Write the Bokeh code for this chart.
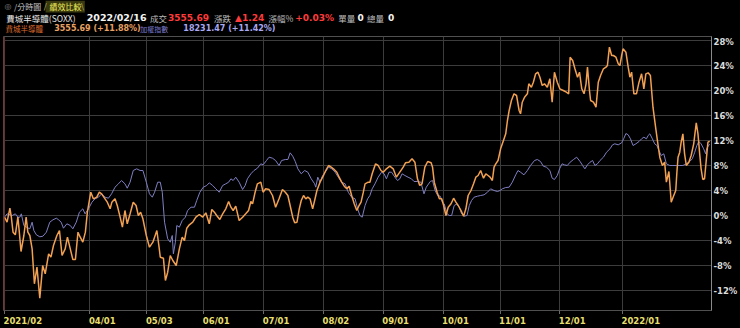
from bokeh.plotting import figure
from bokeh.models import (Range1d, LinearAxis, FixedTicker, PrintfTickFormatter,
                          ColumnDataSource, Span)
from bokeh.layouts import column
from bokeh.core.properties import value
from bokeh.embed import file_html
from bokeh.resources import INLINE

# ---------------- data (trading-day index, % change since start) ----------------
tick_days = [0, 30, 50, 70, 91, 112, 133, 154, 174, 195, 217]
tick_labels = ["2021/02", "04/01", "05/03", "06/01", "07/01", "08/02",
               "09/01", "10/01", "11/01", "12/01", "2022/01"]
y_ticks = [-12, -8, -4, 0, 4, 8, 12, 16, 20, 24, 28]

soxx_day = [0, 0.9, 1.9, 2.4, 3.0, 3.8, 4.7, 5.2, 5.8, 6.8, 7.6, 8.2, 8.9, 9.7, 10.5, 11.4, 12.4, 13.4, 14.3,
            15.5, 16.3, 17.2, 18.4, 19.3, 20.2, 21.3, 22.1, 23.1, 24.0, 24.9, 25.8, 26.6, 27.5, 28.4, 29.1,
            30.3, 31.2, 32.4, 33.3, 34.1, 35.3, 36.1, 37.1, 37.7, 38.8, 39.6, 40.6, 41.4, 42.3, 43.1, 44.1,
            45.2, 46.2, 47.0, 47.8,
            48.6, 49.8, 50.9, 52.1, 53.5, 54.2, 54.7, 55.8, 56.5, 57.3, 58.2, 59.1, 60.3, 61.4, 62.4, 63.2,
            64.0, 64.9, 66.1, 67.2, 68.4, 69.6, 70.7, 71.9, 72.8, 73.7, 74.5, 75.6, 76.6, 77.7, 78.7, 79.5,
            80.3, 81.2, 82.4, 83.6, 84.7, 85.7, 86.5, 87.1, 88.0, 88.8, 90.0, 90.8, 91.7, 92.9, 94.1, 95.2,
            96.4, 97.6,
            98.6, 99.5, 100.3, 101.2, 101.9, 102.7, 103.5, 104.2, 105.0, 105.8, 106.5, 107.3, 108.2, 108.9,
            109.7, 110.8, 112.0, 112.8, 113.8, 114.7, 115.5, 116.7, 117.5, 118.4, 119.3, 120.2, 121.0, 121.9,
            122.8, 123.7, 124.5, 125.2, 126.0, 126.6, 127.7, 128.3, 129.1, 130.3, 131.2, 132.2, 133.0, 134.1,
            135.3, 136.5, 137.6, 138.8, 140.0, 140.8, 142.0, 143.1, 144.1, 145.0, 145.8, 146.6, 147.6,
            148.6, 149.8, 150.3, 150.9, 151.9, 152.7, 153.5, 154.2, 155.0, 155.8, 156.8, 157.7, 158.5, 159.3,
            160.3, 161.2, 162.0, 162.8, 163.8, 164.7, 165.5, 166.3, 167.2, 168.2, 169.0, 169.8, 170.5, 171.3,
            171.9, 172.5, 173.3, 174.2, 175.2, 176.0, 176.6, 177.2, 178.0, 178.9, 179.8, 180.7, 181.2, 181.8,
            182.6, 183.6, 184.1, 185.0, 185.7, 186.5, 187.3, 188.0, 188.8, 189.6, 190.6, 191.5, 192.3, 193.1,
            194.1, 195.0, 196.2, 197.3, 198.1,
            198.6, 199.5, 200.3, 201.2, 201.9, 202.7, 203.5, 204.2, 204.7, 205.4, 205.8, 206.8, 207.7, 208.5,
            209.3, 210.3, 211.2, 211.7, 212.4, 213.2, 213.8, 214.7, 215.5, 216.1, 216.7, 217.2, 218.2, 219.0,
            219.6, 220.2, 221.0, 221.9, 222.8, 223.7, 224.5, 225.2, 226.0, 226.8, 227.7, 228.7, 229.5, 230.1,
            231.0, 231.8, 232.4, 233.3, 234.1, 235.0, 235.7, 236.1, 236.5, 237.1, 237.6, 238.2, 238.8, 239.4,
            240.3, 241.1, 242.0, 242.9, 243.5, 244.1, 244.6, 245.2, 245.8, 246.4, 247.0, 247.6]
soxx_pct = [-0.27, -1.07, 1.17, -0.27, -2.67, -3.09, -0.27, -2.67, -5.76, -3.2, -0.27, -2.67, -3.2, -5.33,
            -10.93, -8.27, -13.23, -8.0, -9.33, -6.13, -6.67, -4.8, -3.2, -2.4, -6.4, -5.33, -3.47, -5.33,
            -7.04, -7.04, -2.67, -3.47, -4.27, -2.67, 0.53, 3.73, 2.67, 2.93, 3.73, 3.47, 2.67, 2.13, 1.07,
            2.13, 2.67, 1.6, -0.27, -1.87, 0.8, -1.33, 0.27, 2.13, 1.6, 0.0, 0.53,
            -0.53, -3.2, -5.07, -4.27, -2.4, -4.8, -6.67, -6.83, -10.4, -9.07, -6.4, -7.2, -8.0, -5.33, -3.47,
            -4.0, -2.03, -1.49, -1.07, -0.27, 0.16, -0.27, 0.43, -1.33, 0.96, 0.53, 0.0, -0.64, 0.27, 1.07,
            2.24, 1.33, 0.8, 1.49, -0.8, -0.27, 0.27, 0.8, 2.24, 1.87, 3.73, 5.07, 5.33, 3.73, 4.27, 4.16,
            3.2, 1.33, 2.67, 4.16,
            3.73, 3.2, 1.6, -0.27, -1.17, -1.07, 1.07, 2.4, 3.2, 2.67, 2.93, 2.67, 1.07, 2.4, 4.0, 5.33, 6.4,
            7.2, 8.0, 7.73, 7.47, 6.93, 6.13, 5.33, 4.69, 4.27, 4.69, 3.2, 1.87, 0.8, 1.6, 2.13, 3.73, 5.07,
            5.33, 5.33, 6.67, 8.27, 8.0, 7.2, 6.93, 7.47, 7.89, 7.47, 6.13, 6.93, 7.73, 8.43, 8.53, 9.07,
            8.53, 5.87, 4.8, 5.07, 7.73,
            8.64, 8.43, 7.73, 5.33, 3.73, 2.67, 2.67, 1.6, 0.0, 1.33, 1.87, 2.77, 2.13, 1.6, 0.8, -0.11, 1.07,
            3.2, 4.0, 5.07, 6.13, 6.4, 7.2, 5.97, 6.67, 6.4, 6.13, 5.6, 7.73, 8.27, 8.8, 10.67, 12.0, 13.07,
            15.2, 16.8, 18.4, 19.47, 19.2, 16.8, 16.27, 18.13, 18.93, 19.47, 21.07, 20.53, 21.33, 22.67,
            22.93, 22.13, 20.8, 21.07, 20.53, 21.87, 18.13, 22.93, 21.33, 20.27, 20.0, 19.73, 19.47,
            25.33, 24.8, 23.47, 22.13, 22.93, 20.27, 19.47, 21.07, 23.73, 20.0, 18.4, 18.13, 17.33, 21.33,
            22.4, 23.47, 23.73, 24.0, 26.93, 25.6, 25.6, 25.33, 24.27, 24.0, 25.6, 26.67, 26.13, 23.73, 22.13,
            22.93, 19.47, 19.47, 21.33, 22.67, 20.27, 22.67, 22.83, 22.4, 17.33, 13.87, 11.2, 9.33, 8.0,
            8.53, 5.33, 7.04, 2.13, 3.2, 4.0, 6.93, 9.33, 10.13, 11.73, 13.07, 9.87, 8.0, 8.53, 9.6, 11.47,
            14.83, 13.07, 9.87, 7.47, 5.76, 5.87, 8.8, 11.73, 11.88]

taiex_day = [0, 0.9, 2.7, 3.8, 4.7, 5.4, 5.9, 6.8, 7.7, 8.9, 9.7, 10.3, 11.2, 12.4, 13.5, 14.7, 15.9, 17.0,
             18.2, 19.0, 19.9, 20.7, 21.9, 23.1, 24.0, 25.2, 26.3, 27.5, 28.3, 29.5, 30.7, 31.8, 33.0, 34.1,
             35.3, 36.5, 37.6, 38.8, 40.0, 41.1, 42.3, 43.1, 44.1, 45.2, 46.4, 47.6,
             48.6, 49.8, 50.9, 51.9, 52.7, 53.8, 54.7, 55.4, 56.2, 57.3, 58.2, 58.9, 59.3, 60.0, 60.5, 61.4,
             62.4, 63.5, 64.3, 65.5, 66.7, 67.5, 68.6, 69.8, 71.0, 71.9, 73.1, 74.2, 75.4, 76.6, 77.7, 78.7,
             79.5, 80.3, 81.2, 82.4, 83.6, 84.5, 85.3, 86.5, 87.6, 88.8, 90.0, 90.8, 92.0, 92.9, 94.1, 95.2,
             96.4, 97.3,
             98.6, 99.5, 100.3, 101.2, 102.1, 103.0, 104.2, 105.4, 106.5, 107.7, 108.9, 109.3, 110.0, 110.8,
             111.7, 112.6, 113.8, 114.9, 116.1, 117.2, 118.4, 119.6, 120.7, 121.9, 123.1, 124.0, 124.8, 125.6,
             126.6, 127.5, 128.3, 129.1, 130.1, 131.2, 132.4, 133.3, 134.1, 135.0, 135.9, 137.1, 138.0, 138.8,
             139.6, 140.6, 141.7, 142.9, 143.8, 145.0, 146.2, 147.3, 148.1,
             149.5, 150.3, 151.2, 152.1, 153.0, 153.8, 154.4, 155.4, 156.2, 157.0, 157.9, 158.9, 159.7, 160.5,
             161.4, 162.4, 163.2, 164.0, 164.9, 166.1, 167.2, 168.4, 169.6, 170.7, 171.9, 173.1, 174.0, 174.8,
             176.0, 177.2, 178.3, 179.5, 180.3, 181.2, 182.4, 183.6, 184.7, 186.1, 187.1, 188.2, 189.2, 190.3,
             191.5, 192.3, 193.1, 194.1, 195.0, 195.8, 196.6, 197.6,
             198.6, 199.8, 200.9, 202.1, 203.0, 203.8, 204.7, 205.6, 206.5, 207.3, 208.2, 209.1, 210.3, 211.4,
             212.6, 213.5, 214.3, 215.5, 216.7, 217.5, 218.2, 219.0, 219.8, 220.7, 221.7, 222.8, 223.7, 224.5,
             225.4, 226.0, 226.6, 227.5, 228.3, 229.1, 229.8, 230.6, 231.5, 232.4, 233.6, 234.7, 235.9, 237.1,
             238.2, 239.4, 240.6, 241.5, 242.3, 243.1, 243.8, 244.6, 245.5, 246.2, 246.6, 247.6]
taiex_pct = [-0.27, 0.27, 0.0, 0.27, -0.27, -0.27, 0.27, -1.6, -1.87, -2.13, -1.07, -2.4, -3.09, -3.41, -3.31,
             -2.67, -1.07, -0.69, -0.43, -0.69, -1.07, -2.03, -1.33, -1.6, -2.13, -1.07, 0.53, 1.07, 0.27, 1.07,
             2.13, 2.67, 2.93, 3.47, 2.93, 2.77, 3.47, 4.53, 5.07, 5.6, 5.07, 4.37, 5.33, 7.2, 7.47, 7.2,
             7.2, 5.33, 3.47, 2.93, 3.73, 5.33, 5.33, 3.73, -1.07, -3.73, -4.27, -3.2, -6.13, -4.27, -1.6, -1.87,
             -0.8, -0.27, 0.8, 1.33, 1.33, 2.4, 3.73, 4.53, 4.8, 5.23, 4.8, 4.27, 3.73, 4.8, 5.07, 5.33, 5.87,
             5.6, 6.13, 5.33, 4.16, 4.8, 5.87, 6.67, 7.2, 7.57, 8.27, 8.11, 8.8, 9.33, 9.17, 8.8, 8.0, 8.8,
             8.96, 8.96, 10.03, 9.49, 8.64, 7.47, 6.67, 7.2, 6.93, 5.87, 5.07, 4.53, 6.13, 5.33, 6.4, 6.93,
             7.73, 7.47, 6.93, 6.13, 5.33, 5.07, 3.73, 2.93, 2.67, 1.07, 0.0, -0.27, 1.6, 2.67, 3.2, 4.27,
             5.07, 6.13, 6.93, 6.67, 5.87, 6.93, 6.93, 6.13, 5.6, 5.87, 6.67, 6.4, 6.13, 5.87, 5.44, 5.44,
             5.33, 3.47, 4.53,
             5.44, 5.6, 4.0, 3.2, 3.09, 2.13, 1.87, 0.27, 0.0, 0.0, 1.6, 1.87, 1.33, 0.27, -0.11, 0.0, 1.6, 2.4,
             2.93, 3.09, 3.2, 3.31, 3.73, 4.27, 4.0, 3.84, 4.0, 4.27, 4.48, 4.53, 5.33, 6.51, 7.2, 6.93, 6.51,
             7.2, 8.0, 8.8, 8.96, 8.64, 7.89, 7.73, 7.2, 5.97, 5.76, 6.4, 7.57, 8.27, 8.11, 8.0,
             8.53, 8.96, 9.33, 8.64, 8.0, 7.47, 8.11, 8.53, 8.8, 8.0, 8.27, 8.8, 9.33, 10.13, 10.67, 11.31,
             11.47, 11.31, 11.63, 12.37, 13.12, 12.91, 12.27, 11.2, 11.47, 11.84, 12.27, 12.53, 12.27, 12.8,
             13.07, 12.27, 11.47, 11.2, 10.4, 9.6, 9.87, 8.27, 8.0, 8.0, 8.0, 8.0, 8.0, 8.27, 8.64, 9.07,
             10.03, 11.2, 11.84, 11.47, 10.67, 9.87, 10.77, 11.42]

CJK = "Noto Sans CJK TC"
NUM = "DejaVu Sans"
BG = "black"

# ---------------- header (quote line + legend) ----------------
h = figure(width=740, height=36, output_backend="svg", toolbar_location=None,
           x_range=Range1d(0, 740), y_range=Range1d(36, 0),
           x_axis_location=None, y_axis_location=None,
           min_border=0)
h.background_fill_color = BG
h.border_fill_color = BG
h.outline_line_color = None
h.grid.visible = False

h.quad(left=[44], right=[85], top=[0], bottom=[12], fill_color="#3a3a10", line_color=None)


def hdr(txt, x, y, color, size="10px", font=CJK, bold=False):
    h.text(x=[x], y=[y], text=[txt], text_color=color, text_align="left",
           text_baseline="middle", text_font=value(font), text_font_size=size,
           text_font_style="bold" if bold else "normal")


hdr("◎", 1, 6, "#8a8a8a", "8px", NUM)
hdr("/分時圖", 11, 6, "#c8c8c8", "8px")
hdr("/", 42, 6, "#9a9a50", "9px", NUM)
hdr("績效比較", 48, 6, "#f2ee5a", "8px")
hdr("\\", 81, 6, "#9a9a50", "9px", NUM)

hdr("費城半導體(SOXX)", 3, 17, "#e6e6e6", "8.5px")
hdr("2022/02/16", 87, 17, "#f4f4f4", "9.5px", NUM, True)
hdr("成交", 153, 17, "#bdbdbd", "8.5px")
hdr("3555.69", 172, 17, "#ff3b3b", "9px", NUM, True)
hdr("漲跌", 220, 17, "#bdbdbd", "8.5px")
hdr("▲1.24", 242, 17, "#ff3b3b", "9px", NUM, True)
hdr("漲幅%", 277, 17, "#bdbdbd", "8.5px")
hdr("+0.03%", 305, 17, "#ff3b3b", "9px", NUM, True)
hdr("單量", 350, 17, "#bdbdbd", "8.5px")
hdr("0", 370, 17, "#f4f4f4", "9px", NUM, True)
hdr("總量", 380, 17, "#bdbdbd", "8.5px")
hdr("0", 402, 17, "#f4f4f4", "9px", NUM, True)

hdr("費城半導體", 2, 28, "#d8692c", "7.5px")
hdr("3555.69 (+11.88%)", 53, 28, "#e9a062", "8px", NUM, True)
hdr("加權指數", 143, 28, "#7c7cd0", "7px")
hdr("18231.47 (+11.42%)", 188, 28, "#a9a9f2", "8px", NUM, True)

# ---------------- main chart ----------------
xr = Range1d(-0.35, 248.25)
p = figure(width=740, height=278, output_backend="svg", toolbar_location=None,
           x_range=xr, y_range=Range1d(-15.2, 28.64),
           x_axis_location="below", y_axis_location=None,
           min_border_left=3, min_border_right=26, min_border_top=0, min_border_bottom=4)
p.background_fill_color = BG
p.border_fill_color = BG
p.outline_line_color = "#505050"

xa = p.xaxis[0]
xa.ticker = FixedTicker(ticks=tick_days)
xa.major_label_text_color = None
xa.major_label_text_font_size = "1px"
xa.major_label_standoff = 0
xa.axis_line_color = None
xa.major_tick_line_color = "#6a6a6a"
xa.major_tick_out = 4
xa.major_tick_in = 0
xa.minor_tick_line_color = None

ya = LinearAxis(ticker=FixedTicker(ticks=y_ticks), formatter=PrintfTickFormatter(format="%d%%"))
ya.axis_line_color = "#8a8a8a"
ya.major_tick_out = 0
ya.major_tick_in = 0
ya.minor_tick_line_color = None
ya.major_label_standoff = 2
ya.major_label_text_color = "#dcdcdc"
ya.major_label_text_font = NUM
ya.major_label_text_font_style = "bold"
ya.major_label_text_font_size = "8.5px"
p.add_layout(ya, "right")

p.xgrid.ticker = FixedTicker(ticks=tick_days)
p.ygrid.ticker = FixedTicker(ticks=y_ticks)
p.xgrid.grid_line_color = "#3c3c3c"
p.ygrid.grid_line_color = "#3c3c3c"

p.add_layout(Span(location=-0.35, dimension="height", line_color="#7a2a2a", line_width=2))

p.line(taiex_day, taiex_pct, line_color="#7f7fc4", line_width=1)
p.line(soxx_day, soxx_pct, line_color="#f2a052", line_width=1.5)

# ---------------- x tick labels (left aligned at each tick) ----------------
f = figure(width=740, height=14, output_backend="svg", toolbar_location=None,
           x_range=xr, y_range=Range1d(0, 1),
           x_axis_location=None, y_axis_location=None,
           min_border_left=3, min_border_right=26, min_border_top=0, min_border_bottom=0)
f.background_fill_color = BG
f.border_fill_color = BG
f.outline_line_color = None
f.grid.visible = False
lab_src = ColumnDataSource(dict(x=tick_days, y=[0.55] * len(tick_days), text=tick_labels))
f.text(x="x", y="y", text="text", source=lab_src, text_align="left", text_baseline="middle",
       x_offset=-1, text_color="#e6df6e", text_font=value(NUM), text_font_style="bold",
       text_font_size="8.5px")

layout = column(h, p, f, spacing=0)
layout.styles = {"background-color": "black"}
open("out.html", "w").write(file_html(layout, INLINE))
